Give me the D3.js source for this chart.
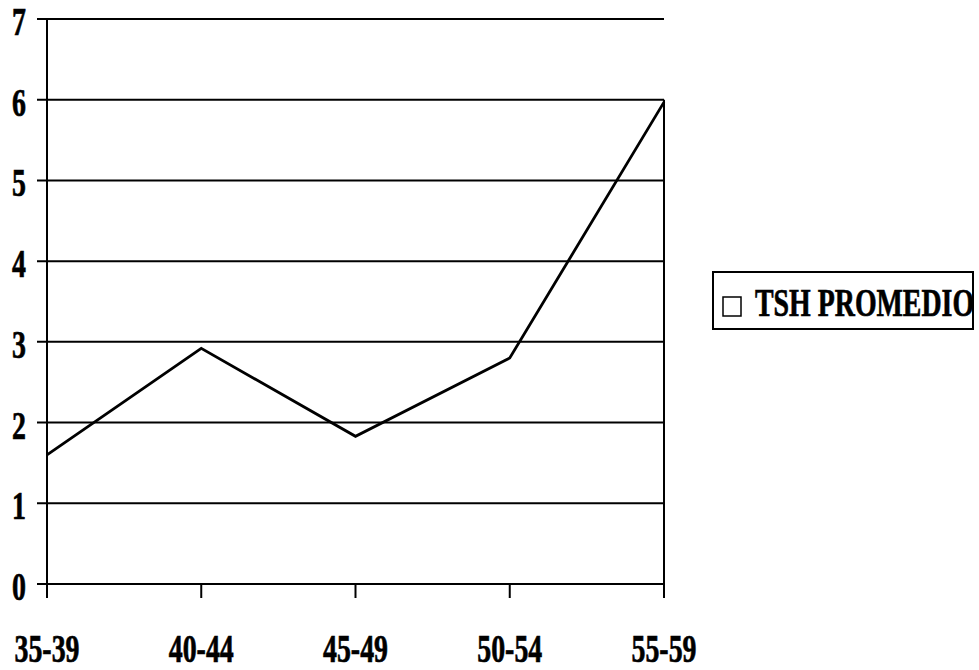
<!DOCTYPE html>
<html>
<head>
<meta charset="utf-8">
<script src="https://cdn.jsdelivr.net/npm/d3@7"></script>
<style>
  html, body { margin: 0; padding: 0; background: #fff; }
  svg { display: block; }
  text { font-family: "Liberation Serif", "Times New Roman", serif; font-weight: bold; fill: #000; stroke: #000; stroke-width: 0.7; }
</style>
</head>
<body>
<svg id="chart" width="979" height="670"></svg>
<script>
// Age groups and mean TSH per group
const categories = ["35-39", "40-44", "45-49", "50-54", "55-59"];
const tshValues = [1.6, 2.92, 1.83, 2.8, 5.97];
const yTicks = [0, 1, 2, 3, 4, 5, 6, 7];
const seriesName = "TSH PROMEDIO";

const svg = d3.select("#chart");
const plotLeft = 47, plotRight = 664, plotTop = 19, plotBottom = 584;
const fontSize = 41, squeeze = 0.68;

const x = d3.scalePoint().domain(categories).range([plotLeft, plotRight]);
const y = d3.scaleLinear().domain([0, 7]).range([plotBottom, plotTop]);

// Narrow bold serif label, horizontally condensed
function label(g, tx, ty, str, anchor) {
  g.append("text")
    .attr("transform", `translate(${tx},${ty}) scale(${squeeze},1)`)
    .attr("text-anchor", anchor)
    .attr("font-size", fontSize)
    .text(str);
}

// Horizontal gridlines (with tick stubs on the left)
svg.append("g").selectAll("line").data(yTicks).join("line")
  .attr("x1", plotLeft - 10).attr("x2", plotRight)
  .attr("y1", d => y(d)).attr("y2", d => y(d))
  .attr("stroke", "#000").attr("stroke-width", 2);

// Vertical axis
svg.append("line")
  .attr("x1", plotLeft).attr("x2", plotLeft)
  .attr("y1", y(7)).attr("y2", plotBottom + 14)
  .attr("stroke", "#000").attr("stroke-width", 2);

// Category ticks below the baseline
svg.append("g").selectAll("line").data(categories).join("line")
  .attr("x1", d => x(d)).attr("x2", d => x(d))
  .attr("y1", plotBottom).attr("y2", plotBottom + 14)
  .attr("stroke", "#000").attr("stroke-width", 2);

// Right edge drop line under the last category
svg.append("line")
  .attr("x1", plotRight).attr("x2", plotRight)
  .attr("y1", y(6)).attr("y2", plotBottom + 14)
  .attr("stroke", "#000").attr("stroke-width", 2);

// Y tick labels
const yl = svg.append("g");
yTicks.forEach(t => label(yl, 26, y(t) + 16, String(t), "end"));

// X tick labels
const xl = svg.append("g");
categories.forEach(c => label(xl, x(c), 662, c, "middle"));

// Data line
const line = d3.line()
  .x((d, i) => x(categories[i]))
  .y(d => y(d));
svg.append("path")
  .datum(tshValues)
  .attr("d", line)
  .attr("fill", "none")
  .attr("stroke", "#000")
  .attr("stroke-width", 2.8)
  .attr("stroke-linejoin", "miter");

// Legend
const lg = svg.append("g");
lg.append("rect")
  .attr("x", 713).attr("y", 272).attr("width", 260).attr("height", 57)
  .attr("fill", "#fff").attr("stroke", "#000").attr("stroke-width", 2);
lg.append("rect")
  .attr("x", 723).attr("y", 297).attr("width", 18).attr("height", 19)
  .attr("fill", "#fff").attr("stroke", "#000").attr("stroke-width", 1.5);
label(lg, 755, 316, seriesName, "start");
</script>
</body>
</html>
